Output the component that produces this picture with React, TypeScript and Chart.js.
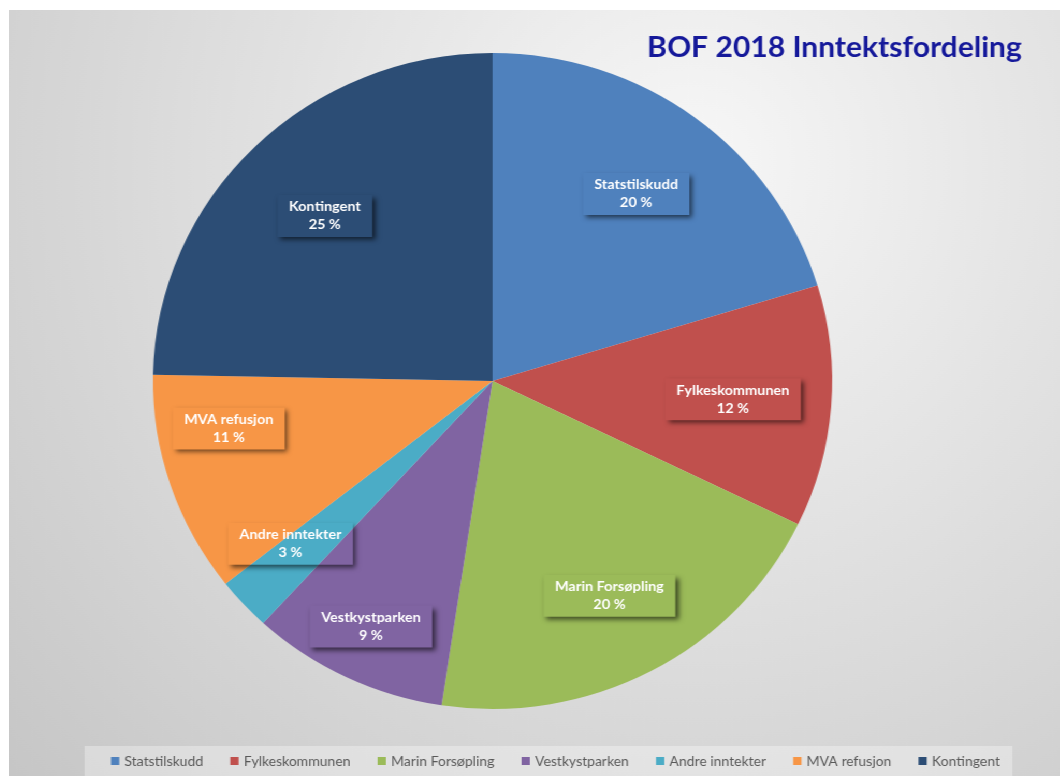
import React, { useEffect, useRef } from "react";
import { Chart, registerables } from "chart.js";

Chart.register(...registerables);

const categories = [
  "Statstilskudd",
  "Fylkeskommunen",
  "Marin Forsøpling",
  "Vestkystparken",
  "Andre inntekter",
  "MVA refusjon",
  "Kontingent",
];
const shares = [20.3, 11.9, 20.2, 9.4, 2.6, 10.9, 24.7];
const colors = ["#4F81BD", "#C0504D", "#9BBB59", "#8064A2", "#4BACC6", "#F79646", "#2C4D75"];
const titleText = "BOF 2018 Inntektsfordeling";

// label placement tweaks (fraction of radius, angular nudge in degrees)
const labelRadius = [0.71, 0.71, 0.74, 0.83, 0.775, 0.79, 0.705];
const labelAngleShift = [0, 0, 0, 0, 3, 8, 0];

const W = 1015;
const H = 766;
const STRETCH_X = 1.0355;

const overlayPlugin = {
  id: "overlay",
  afterDatasetsDraw(chart: any) {
    const ctx: CanvasRenderingContext2D = chart.ctx;
    const dpr = chart.currentDevicePixelRatio || 1;
    const meta = chart.getDatasetMeta(0);
    const total = shares.reduce((a, b) => a + b, 0);

    // data labels
    ctx.save();
    ctx.font = "bold 14px Lato";
    meta.data.forEach((arc: any, i: number) => {
      const p = arc.getProps(["x", "y", "startAngle", "endAngle", "outerRadius"], true);
      const mid = (p.startAngle + p.endAngle) / 2 + (labelAngleShift[i] * Math.PI) / 180;
      const lx = p.x + Math.cos(mid) * p.outerRadius * labelRadius[i];
      const ly = p.y + Math.sin(mid) * p.outerRadius * labelRadius[i];
      const l1 = categories[i];
      const l2 = Math.round((shares[i] / total) * 100) + " %";
      const tw = Math.max(ctx.measureText(l1).width, ctx.measureText(l2).width);
      const bw = tw + 22;
      const bh = 42;
      const bx = lx - bw / 2;
      const by = ly - bh / 2;
      ctx.save();
      ctx.beginPath();
      ctx.rect(0, 0, chart.width, chart.height);
      ctx.rect(bx, by, bw, bh);
      ctx.clip("evenodd");
      const far = 5000;
      ctx.shadowColor = "rgba(0,0,0,0.6)";
      ctx.shadowBlur = 5;
      ctx.shadowOffsetX = (far + 3) * dpr;
      ctx.shadowOffsetY = 3 * dpr;
      ctx.fillStyle = "#000";
      ctx.fillRect(bx - far, by, bw, bh);
      ctx.restore();
      ctx.fillStyle = "#ffffff";
      ctx.textAlign = "center";
      ctx.textBaseline = "middle";
      ctx.fillText(l1, lx, ly - 9);
      ctx.fillText(l2, lx, ly + 9);
    });
    ctx.restore();

    // title
    ctx.save();
    ctx.font = "bold 29px Lato";
    ctx.fillStyle = "#15199A";
    ctx.textAlign = "right";
    ctx.textBaseline = "alphabetic";
    ctx.fillText(titleText, 978, 47);
    ctx.restore();

    // legend
    ctx.save();
    ctx.fillStyle = "rgba(255,255,255,0.32)";
    ctx.fillRect(73, 736, 896, 30);
    ctx.font = "13.5px Lato";
    ctx.textBaseline = "middle";
    ctx.textAlign = "left";
    const sq = 8;
    const sqGap = 5;
    const widths = categories.map((c) => sq + sqGap + ctx.measureText(c).width);
    const startX = 98.5;
    const endX = 957;
    const sum = widths.reduce((a, b) => a + b, 0);
    const gap = (endX - startX - sum) / (categories.length - 1);
    let x = startX;
    const cy = 751;
    categories.forEach((c, i) => {
      ctx.fillStyle = colors[i];
      ctx.fillRect(x, cy - sq / 2, sq, sq);
      ctx.fillStyle = "#595959";
      ctx.fillText(c, x + sq + sqGap, cy + 0.5);
      x += widths[i] + gap;
    });
    ctx.restore();
  },
};

export default function App() {
  const canvasRef = useRef<HTMLCanvasElement | null>(null);

  useEffect(() => {
    if (!canvasRef.current) return;
    const chart = new Chart(canvasRef.current, {
      type: "pie",
      data: {
        labels: categories,
        datasets: [
          {
            data: shares,
            backgroundColor: colors,
            borderWidth: 0,
          },
        ],
      },
      options: {
        animation: false,
        responsive: true,
        maintainAspectRatio: false,
        layout: { padding: { left: 139, right: 220, top: 42, bottom: 66 } },
        plugins: {
          legend: { display: false },
          title: { display: false },
          tooltip: { enabled: false },
        },
      },
      plugins: [overlayPlugin],
    });
    return () => chart.destroy();
  }, []);

  return (
    <div
      style={{
        position: "absolute",
        left: 9,
        top: 10,
        width: W,
        height: H,
        transform: `scaleX(${STRETCH_X})`,
        transformOrigin: "0 0",
        background:
          "radial-gradient(circle farthest-corner at 65% 20%, #f7f7f7 0%, #e6e6e6 35%, #c6c6c6 100%)",
      }}
    >
      <canvas ref={canvasRef} style={{ display: "block", width: "100%", height: "100%" }} />
    </div>
  );
}
